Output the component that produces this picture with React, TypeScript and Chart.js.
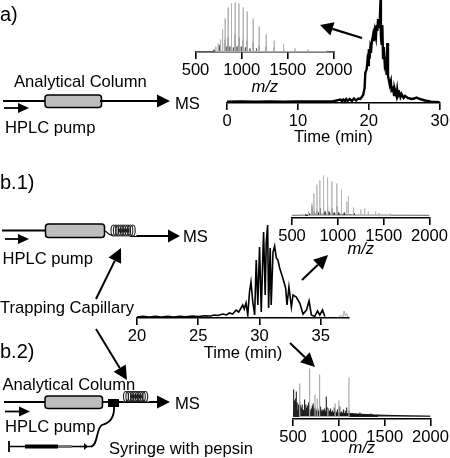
import React, { useEffect, useRef } from "react";
import { Chart, registerables } from "chart.js";

Chart.register(...registerables);

const W = 450;
const H = 458;
const FONT = '"Liberation Sans", Arial, sans-serif';
const TEXT_SIZE = 16.6;

// Chromatogram a)
const timeA = [0, 2, 4, 6, 8, 10, 12, 14, 15, 16, 16.2, 16.4, 16.6, 16.8, 17, 17.3, 17.6, 17.9, 18.2, 18.5, 18.8, 19, 19.2, 19.4, 19.5, 19.7, 19.8, 19.9, 20, 20.1, 20.2, 20.3, 20.4, 20.6, 20.7, 20.85, 21, 21.1, 21.2, 21.3, 21.45, 21.55, 21.65, 21.7, 21.8, 21.9, 22, 22.1, 22.25, 22.4, 22.5, 22.6, 22.7, 22.95, 23.1, 23.2, 23.4, 23.55, 23.65, 23.9, 24, 24.1, 24.3, 24.45, 24.6, 24.9, 25.1, 25.5, 26, 26.4, 26.7, 27.2, 27.9, 28.8, 30];
const intensityA = [1.4, 1.5, 1.4, 1.5, 1.4, 1.5, 1.5, 1.6, 1.8, 3.5, 1.8, 3.5, 2, 4, 2, 4, 2, 4.5, 2.5, 4.5, 4, 6, 8, 15, 30, 34, 42, 38, 54, 44, 54, 50, 60, 68, 62, 72, 66, 78, 72, 84, 76, 84, 103, 68, 58, 78, 45, 56, 38, 42, 28, 60, 27, 18, 22, 13, 15, 8, 14, 7, 13, 7, 10, 6, 9, 5, 7, 5, 4, 4.5, 5.5, 4, 2.5, 1.4, 0.8];

// Chromatogram b.1)
const timeB = [20, 20.5, 21, 21.5, 22, 22.5, 23, 23.5, 24, 24.5, 25, 25.5, 26, 26.3, 26.6, 27, 27.3, 27.54, 27.8, 28.09, 28.3, 28.63, 28.75, 28.9, 29.04, 29.18, 29.3, 29.45, 29.6, 29.73, 29.86, 30, 30.14, 30.24, 30.33, 30.46, 30.55, 30.66, 30.74, 30.87, 30.95, 31.1, 31.23, 31.37, 31.5, 31.64, 31.9, 32.13, 32.24, 32.4, 32.6, 32.73, 33, 33.28, 33.55, 33.83, 34.04, 34.23, 34.5, 34.73, 34.92, 35.14, 35.33];
const intensityB = [1, 1.6, 1, 1.8, 1, 1.8, 1, 1.8, 1.2, 2, 1.4, 2.2, 2, 3, 2.5, 4, 3, 5, 4, 8, 6, 13, 9, 15, 3, 26, 36, 16, 3, 58, 13, 71, 6, 50, 86, 23, 76, 93, 10, 70, 13, 66, 72, 60, 58, 50, 40, 30, 13, 31, 11, 23, 21, 15, 4, 8, 17, 3, 1.5, 7, 3, 8, 1.5];
const timeBTail = [36.4, 36.6, 36.8, 36.9, 37, 37.1, 37.2];
const intensityBTail = [0.5, 3, 1, 7, 2, 5, 1];

// Spectrum a)
const mzA = [720, 746, 771, 793, 822, 854, 890, 930, 970, 1017, 1060, 1125, 1190, 1266, 1353, 1454, 1577, 1718, 1920];
const peakA = [5, 8, 12, 22, 33, 44, 48, 49, 48, 44, 40, 33, 25, 17, 11, 7, 3, 2, 1];
const mzADark = [700, 760, 793, 822, 840, 854, 872, 890, 910, 930, 950, 970, 995, 1017, 1040, 1060, 1090, 1125, 1160, 1190, 1266, 1353, 1454];
const peakADark = [2, 6, 8, 12, 5, 14, 5, 15, 4, 17, 5, 14, 5, 12, 4, 11, 3, 9, 3, 6, 5, 4, 2];
const baseAx = [500, 2000];
const baseAy = [0, 0];

// Spectrum b.1)
const mzB = [681, 717, 739, 772, 804, 844, 888, 935, 989, 1040, 1098, 1116, 1170, 1250, 1293, 1333, 1413, 1449, 1569];
const peakB = [4, 12, 22, 31, 35, 40, 38, 34, 32, 26, 14, 19, 8, 6, 7, 4, 4, 2.5, 2];
const mzBDark = [650, 690, 717, 740, 770, 790, 810, 844, 860, 888, 905, 935, 960, 989, 1010, 1040, 1070, 1116, 1180];
const peakBDark = [1, 2, 9, 4, 5, 3, 7, 14, 4, 9, 4, 7, 3, 9, 3, 6, 3, 6, 2];
const mzBFloor = [500, 650, 750, 900, 1100, 1200, 2000];
const peakBFloor = [0.2, 0.4, 1.2, 1.5, 1, 0.4, 0.2];

// Spectrum b.2)
const mzC = [573, 681, 740, 765, 790, 880, 960, 1000, 1110];
const peakC = [33, 48, 22, 18, 42, 8, 13, 16, 39];
const mzCDark = [507, 514, 520, 528, 536, 545, 555, 564, 573, 582, 590, 600, 610, 620, 630, 640, 650, 660, 670, 685, 700, 710, 720, 730, 740, 755, 770, 785, 800, 815, 830, 845, 863, 875, 885, 900, 910, 930, 950, 965, 985, 1010, 1030, 1050, 1070, 1085, 1110, 1230, 1350, 1420];
const peakCDark = [27, 16, 14, 18, 25, 14, 12, 9, 15, 11, 9, 12, 7, 10, 17, 12, 9, 11, 14, 7, 8, 11, 13, 8, 9, 7, 8, 6, 10, 7, 7, 8, 20, 9, 8, 6, 8, 6, 9, 6, 7, 10, 5, 7, 6, 9, 6, 4, 3, 2];
const mzCFloor = [500, 600, 700, 800, 900, 1000, 1100, 1200, 1400, 1700, 2000];
const peakCFloor = [6, 6, 5, 5, 4.5, 3.5, 3, 2.5, 1.5, 0.8, 0.4];

const ticksTimeA = [0, 10, 20, 30];
const ticksTimeB = [20, 25, 30, 35];
const ticksMz = [500, 1000, 1500, 2000];

const xy = (xs: number[], ys: number[]) => xs.map((x, i) => ({ x, y: ys[i] }));
const sticks = (xs: number[], ys: number[]) =>
  xs.flatMap((x, i) => [{ x, y: 0 }, { x, y: ys[i] }, { x, y: 0 }]);

const lineSet = (data: any[], color: string, width: number, extra: any = {}) => ({
  type: "line",
  data,
  borderColor: color,
  backgroundColor: color,
  borderWidth: width,
  pointRadius: 0,
  tension: 0,
  fill: false,
  ...extra,
});

const panels = [
  {
    left: 227, right: 440, axisY: 103, topY: 0, xMin: 0, xMax: 30, yMin: 0, ticks: ticksTimeA, title: "Time (min)", italic: false, boxH: 44, tickPad: 1,
    datasets: [lineSet(xy(timeA, intensityA), "#000", 2.4)],
  },
  {
    left: 137, right: 349, axisY: 318, topY: 218, xMin: 20, xMax: 37.3, yMin: 0, ticks: ticksTimeB, title: "Time (min)", italic: false, boxH: 45, tickPad: 1,
    datasets: [lineSet(xy(timeB, intensityB), "#000", 1.6), lineSet(xy(timeBTail, intensityBTail), "#aaa", 1)],
  },
  {
    left: 195.5, right: 334, axisY: 52, topY: 0, xMin: 500, xMax: 2000, yMin: -0.5, ticks: ticksMz, title: "m/z", italic: true, boxH: 45, tickPad: 1,
    datasets: [lineSet(sticks(mzA, peakA), "#b0b0b0", 1), lineSet(sticks(mzADark, peakADark), "#555", 1), lineSet(xy(baseAx, baseAy), "#555", 1)],
  },
  {
    left: 292, right: 429.5, axisY: 218, topY: 170, xMin: 500, xMax: 2000, yMin: -2.5, ticks: ticksMz, title: "m/z", italic: true, boxH: 41, tickPad: 1,
    datasets: [lineSet(sticks(mzB, peakB), "#b8b8b8", 1), lineSet(sticks(mzBDark, peakBDark), "#333", 1), lineSet(xy(mzBFloor, peakBFloor), "#666", 1)],
  },
  {
    left: 293, right: 431.5, axisY: 419, topY: 360, xMin: 500, xMax: 2000, yMin: -2.5, ticks: ticksMz, title: "m/z", italic: true, boxH: 39, tickPad: 1,
    datasets: [
      lineSet(sticks(mzC, peakC), "#aaa", 1.2),
      lineSet(sticks(mzCDark, peakCDark), "#222", 1.1),
      lineSet(xy(mzCFloor, peakCFloor), "#111", 1, { fill: "origin" }),
    ],
  },
];

function arrow(c: CanvasRenderingContext2D, x0: number, y0: number, x1: number, y1: number, len = 13, half = 6.5, width = 2) {
  const a = Math.atan2(y1 - y0, x1 - x0);
  const bx = x1 - Math.cos(a) * len;
  const by = y1 - Math.sin(a) * len;
  c.lineWidth = width;
  c.strokeStyle = "#000";
  c.fillStyle = "#000";
  c.beginPath();
  c.moveTo(x0, y0);
  c.lineTo(bx, by);
  c.stroke();
  c.beginPath();
  c.moveTo(x1, y1);
  c.lineTo(bx - Math.sin(a) * half, by + Math.cos(a) * half);
  c.lineTo(bx + Math.sin(a) * half, by - Math.cos(a) * half);
  c.closePath();
  c.fill();
}

function column(c: CanvasRenderingContext2D, x0: number, x1: number, y0: number, y1: number) {
  c.beginPath();
  c.roundRect(x0, y0, x1 - x0, y1 - y0, 3);
  c.fillStyle = "#bdbdbd";
  c.fill();
  c.lineWidth = 1.5;
  c.strokeStyle = "#000";
  c.stroke();
}

function coil(c: CanvasRenderingContext2D, x0: number, x1: number, y0: number, y1: number) {
  const cy = (y0 + y1) / 2;
  const ry = (y1 - y0) / 2;
  c.fillStyle = "#fff";
  c.fillRect(x0, y0, x1 - x0, y1 - y0);
  c.strokeStyle = "#222";
  c.lineWidth = 1.1;
  for (let x = x0 + 2.5; x <= x1 - 2.5; x += 2.4) {
    c.beginPath();
    c.ellipse(x, cy, 2.5, ry, 0, 0, Math.PI * 2);
    c.stroke();
  }
  c.fillStyle = "#222";
  c.fillRect(x0 + 7, cy - 2, x1 - x0 - 14, 4);
}

function hline(c: CanvasRenderingContext2D, x0: number, x1: number, y: number, w = 1.8) {
  c.strokeStyle = "#000";
  c.lineWidth = w;
  c.beginPath();
  c.moveTo(x0, y);
  c.lineTo(x1, y);
  c.stroke();
}

const schematicLabels: [string, number, number, number][] = [
  ["a)", 0, 15, 20],
  ["Analytical Column", 14, 82, TEXT_SIZE],
  ["MS", 175, 104, TEXT_SIZE],
  ["HPLC pump", 5, 128, TEXT_SIZE],
  ["b.1)", 0, 183, 20],
  ["MS", 183, 237, TEXT_SIZE],
  ["HPLC pump", 2.5, 259, TEXT_SIZE],
  ["Trapping Capillary", 0, 308, TEXT_SIZE],
  ["b.2)", 0, 352, 20],
  ["Analytical Column", 2.5, 385, TEXT_SIZE],
  ["MS", 175, 404, TEXT_SIZE],
  ["HPLC pump", 5, 427, TEXT_SIZE],
  ["Syringe with pepsin", 109, 449, TEXT_SIZE],
];

const schematic = {
  id: "schematic",
  afterDraw(chart: any) {
    const c: CanvasRenderingContext2D = chart.ctx;
    c.save();
    // a)
    hline(c, 3, 160, 101);
    column(c, 45, 101.5, 95, 107.5);
    arrow(c, 100, 101, 170, 101, 13, 6.5, 1.8);
    arrow(c, 4, 108, 29, 108, 11, 5, 1.8);
    arrow(c, 362, 38, 320, 25, 13, 7, 2.2);
    // b.1)
    hline(c, 2, 46, 230.5);
    column(c, 45.5, 104.5, 224, 237.5);
    arrow(c, 130, 236, 180, 236, 12, 6.5, 1.8);
    coil(c, 111, 136.5, 225, 236);
    c.strokeStyle = "#000";
    c.lineWidth = 1.2;
    c.beginPath();
    c.moveTo(104.5, 230.5);
    c.bezierCurveTo(108, 232, 108, 236, 113, 235);
    c.stroke();
    arrow(c, 5, 239, 29, 239, 11, 5, 1.8);
    arrow(c, 96, 299, 121, 248, 14, 7, 2);
    arrow(c, 96, 329, 127, 380, 14, 7, 2);
    arrow(c, 302, 280, 328, 255, 14, 7, 2);
    arrow(c, 290, 343, 315, 367, 14, 7, 2);
    // b.2)
    hline(c, 4, 46, 402);
    column(c, 45, 102.5, 396, 408.5);
    hline(c, 102, 110, 402);
    arrow(c, 118, 402, 170, 402, 13, 6.5, 1.8);
    coil(c, 123.5, 149, 391.5, 401.5);
    c.fillStyle = "#000";
    c.fillRect(108, 399, 11, 8);
    arrow(c, 5, 411.5, 30, 411.5, 11, 5, 1.8);
    // syringe
    c.strokeStyle = "#000";
    c.lineWidth = 1.8;
    c.beginPath();
    c.moveTo(114, 405);
    c.bezierCurveTo(115, 418, 110, 423, 102, 425);
    c.bezierCurveTo(96, 428, 98, 446, 91, 446.5);
    c.stroke();
    c.beginPath();
    c.moveTo(9, 441);
    c.lineTo(9, 452);
    c.stroke();
    hline(c, 9, 92, 446.5, 1.6);
    c.fillStyle = "#000";
    c.fillRect(25, 444.5, 33, 4);
    c.fillStyle = "#777";
    c.fillRect(58, 445, 14, 3);
    arrow(c, 80, 446.5, 88, 446.5, 4, 3.5, 1.2);
    // labels
    c.fillStyle = "#000";
    c.textBaseline = "middle";
    c.textAlign = "left";
    for (const [t, x, y, s] of schematicLabels) {
      c.font = `${s}px ${FONT}`;
      c.fillText(t, x, y);
    }
    c.restore();
  },
};

function SchematicCanvas() {
  const ref = useRef<HTMLCanvasElement>(null);
  useEffect(() => {
    const chart = new Chart(ref.current!, {
      type: "line",
      data: { datasets: [] },
      options: {
        responsive: false,
        animation: false,
        plugins: { legend: { display: false }, tooltip: { enabled: false } },
        scales: { x: { display: false }, y: { display: false } },
      },
      plugins: [schematic],
    } as any);
    return () => chart.destroy();
  }, []);
  return <canvas ref={ref} width={W} height={H} style={{ position: "absolute", left: 0, top: 0 }} />;
}

function Panel({ p }: { p: (typeof panels)[number] }) {
  const ref = useRef<HTMLCanvasElement>(null);
  useEffect(() => {
    const chart = new Chart(ref.current!, {
      type: "line",
      data: { datasets: p.datasets },
      options: {
        responsive: false,
        animation: false,
        parsing: false,
        normalized: false,
        layout: { padding: { left: p.left, right: W - p.right, top: p.topY, bottom: H - p.axisY - p.boxH } },
        plugins: { legend: { display: false }, tooltip: { enabled: false } },
        scales: {
          x: {
            type: "linear",
            min: p.xMin,
            max: p.xMax,
            afterFit: (s: any) => { s.height = p.boxH; },
            afterBuildTicks: (s: any) => { s.ticks = p.ticks.map((value: number) => ({ value })); },
            border: { display: true, color: "#000", width: 1.6 },
            grid: { display: true, drawOnChartArea: false, drawTicks: true, tickLength: 7, color: "#000", lineWidth: 1.6 },
            ticks: { color: "#000", padding: p.tickPad, maxRotation: 0, minRotation: 0, autoSkip: false, font: { family: FONT, size: TEXT_SIZE }, callback: (v: number) => String(v) },
            title: { display: true, text: p.title, color: "#000", padding: 0, font: { family: FONT, size: TEXT_SIZE, style: p.italic ? "italic" : "normal", lineHeight: 1.2 } },
          },
          y: { display: false, min: p.yMin, max: p.yMin + p.axisY - p.topY },
        },
      },
    } as any);
    return () => chart.destroy();
  }, [p]);
  return <canvas ref={ref} width={W} height={H} style={{ position: "absolute", left: 0, top: 0 }} />;
}

export default function App() {
  return (
    <div style={{ position: "absolute", left: 0, top: 0, width: W, height: H, background: "#fff", overflow: "hidden" }}>
      <SchematicCanvas />
      {panels.map((p, i) => (
        <Panel key={i} p={p} />
      ))}
    </div>
  );
}
